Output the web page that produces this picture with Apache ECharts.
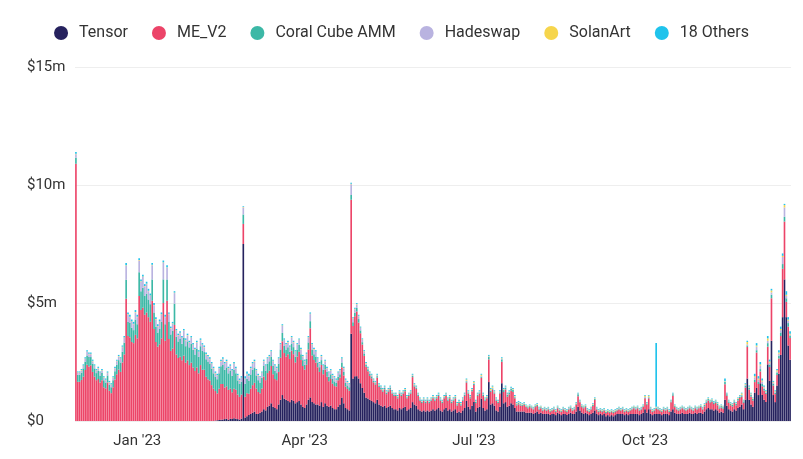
<!DOCTYPE html>
<html>
<head>
<meta charset="utf-8">
<script src="https://cdn.jsdelivr.net/npm/echarts@6/dist/echarts.min.js"></script>
<style>
  html, body { margin: 0; padding: 0; background: #fff; }
  #chart { width: 803px; height: 459px; }
</style>
</head>
<body>
<div id="chart"></div>
<script>
// daily volume, $m, one value per day starting 2022-11-29
const startDate = '2022-11-29';
const dayCount = 385;

const tickDates = ['2023-01-01', '2023-04-01', '2023-07-01', '2023-10-01'];
const tickLabels = ["Jan '23", "Apr '23", "Jul '23", "Oct '23"];

const seriesNames = ['Tensor', 'ME_V2', 'Coral Cube AMM', 'Hadeswap', 'SolanArt', '18 Others'];

const tensor = [
  0,0,0,0,0,0,0,0,0,0,
  0,0,0,0,0,0,0,0,0,0,
  0,0,0,0,0,0,0,0,0,0,
  0,0,0,0,0,0,0,0,0,0,
  0,0,0,0,0,0,0,0,0,0,
  0,0,0,0,0,0,0,0,0,0,
  0,0,0,0,0,0,0,0,0,0,
  0,0,0,0,0,0.02,0.03,0.04,0.05,0.06,
  0.08,0.1,0.05,0.1,0.08,0.12,0.1,0.08,0.06,0.1,
  7.5,0.15,0.2,0.25,0.3,0.35,0.4,0.3,0.3,0.35,
  0.4,0.5,0.45,0.6,0.65,0.75,0.6,0.55,0.5,0.7,
  0.9,1.1,0.95,0.9,0.85,0.8,0.9,0.85,0.75,0.8,
  0.85,0.7,0.6,0.55,0.7,0.9,1.0,0.8,0.75,0.7,
  0.7,0.65,0.8,0.6,0.75,0.65,0.6,0.65,0.55,0.5,
  0.5,0.6,0.7,1.0,0.75,0.55,0.5,0.45,3.7,1.8,
  1.9,1.9,1.8,1.6,1.4,1.2,1.0,0.95,0.9,0.85,
  0.8,0.75,0.9,0.7,0.65,0.6,0.65,0.55,0.6,0.65,
  0.55,0.5,0.5,0.45,0.55,0.5,0.55,0.6,0.45,0.5,
  0.55,0.8,0.7,0.65,0.5,0.45,0.4,0.45,0.4,0.45,
  0.4,0.45,0.5,0.45,0.5,0.55,0.45,0.4,0.5,0.55,
  0.45,0.5,0.4,0.45,0.5,0.35,0.4,0.35,0.45,0.55,
  0.85,0.6,0.5,0.65,0.8,0.4,0.55,0.6,0.95,0.55,
  0.45,0.5,1.65,0.7,0.75,0.65,0.45,0.4,0.6,1.6,
  0.75,0.8,0.6,0.65,0.75,0.7,0.55,0.4,0.4,0.4,
  0.4,0.4,0.35,0.35,0.35,0.35,0.3,0.35,0.4,0.3,
  0.35,0.3,0.3,0.3,0.3,0.25,0.3,0.3,0.25,0.35,
  0.3,0.25,0.3,0.3,0.25,0.3,0.35,0.3,0.3,0.4,
  0.6,0.45,0.35,0.3,0.35,0.3,0.25,0.3,0.35,0.45,
  0.3,0.25,0.3,0.25,0.3,0.2,0.25,0.2,0.25,0.2,
  0.25,0.3,0.3,0.3,0.3,0.25,0.3,0.25,0.3,0.3,
  0.3,0.3,0.3,0.25,0.3,0.35,0.5,0.35,0.5,0.3,
  0.25,0.3,0.3,0.3,0.3,0.25,0.3,0.3,0.3,0.25,
  0.4,0.5,0.35,0.3,0.3,0.3,0.35,0.3,0.3,0.3,
  0.35,0.3,0.3,0.35,0.3,0.35,0.35,0.3,0.4,0.5,
  0.55,0.5,0.5,0.45,0.5,0.45,0.35,0.4,0.35,0.9,
  0.65,0.5,0.45,0.4,0.5,0.45,0.55,0.6,0.7,0.5,
  0.9,1.8,0.9,0.7,0.6,1.2,1.4,1.1,1.6,1.1,
  0.9,0.8,2.4,1.7,3.4,1.1,0.8,1.5,2.0,2.8,
  4.4,6.0,4.4,3.2,2.6
];

const meV2 = [
  10.9,1.66,1.66,1.74,1.88,2.16,2.38,2.31,2.36,2.08,
  1.88,1.73,1.78,1.63,1.73,1.43,1.38,1.63,1.28,1.18,
  1.43,1.76,1.98,2.18,2.08,2.48,2.82,5.18,3.6,3.55,
  3.35,3.3,3.65,3.5,5.3,4.7,4.8,4.5,4.6,4.4,
  4.2,5.1,3.9,3.35,3.15,3.25,3.5,5.0,3.4,5.1,
  3.47,2.97,3.07,4.07,2.82,2.67,2.72,2.57,2.77,2.47,
  2.57,2.37,2.47,2.27,2.12,2.27,2.02,2.37,2.17,2.17,
  1.87,1.77,1.72,1.52,1.37,1.25,1.14,1.33,1.52,1.51,
  1.34,1.37,1.27,1.27,1.14,1.25,1.22,1.04,0.96,1.02,
  0.85,0.88,0.98,0.9,1.07,1.17,1.22,1.08,0.93,0.83,
  0.98,1.38,1.28,1.43,1.48,1.58,1.38,1.23,1.23,1.38,
  1.78,2.28,1.93,1.83,1.98,1.83,2.08,1.98,1.73,1.93,
  2.08,1.88,1.73,1.63,1.68,2.13,2.93,1.98,1.83,1.78,
  1.58,1.43,1.58,1.38,1.43,1.23,1.08,1.13,1.03,0.98,
  0.96,1.13,1.13,1.28,1.18,0.91,0.86,0.83,5.68,2.23,
  2.54,2.74,2.37,2.12,1.84,1.56,1.3,1.16,1.01,0.96,
  0.84,0.79,0.94,0.74,0.69,0.64,0.69,0.59,0.64,0.69,
  0.61,0.56,0.56,0.51,0.61,0.56,0.61,0.66,0.51,0.56,
  0.61,1.06,0.76,0.71,0.56,0.41,0.36,0.41,0.36,0.41,
  0.36,0.41,0.46,0.41,0.46,0.51,0.41,0.36,0.46,0.51,
  0.41,0.46,0.36,0.41,0.46,0.31,0.36,0.31,0.41,0.51,
  0.78,0.56,0.46,0.61,0.73,0.36,0.51,0.56,0.88,0.51,
  0.41,0.46,0.96,0.53,0.58,0.51,0.41,0.36,0.56,0.91,
  0.48,0.53,0.43,0.48,0.53,0.53,0.41,0.26,0.31,0.26,
  0.24,0.29,0.24,0.19,0.24,0.19,0.19,0.24,0.24,0.19,
  0.19,0.14,0.19,0.14,0.19,0.14,0.14,0.19,0.14,0.19,
  0.14,0.14,0.19,0.14,0.14,0.19,0.19,0.14,0.19,0.29,
  0.45,0.34,0.24,0.24,0.24,0.14,0.14,0.19,0.29,0.44,
  0.19,0.14,0.14,0.14,0.14,0.14,0.14,0.14,0.14,0.14,
  0.14,0.14,0.19,0.14,0.19,0.14,0.14,0.14,0.14,0.19,
  0.24,0.19,0.24,0.19,0.19,0.24,0.46,0.34,0.46,0.19,
  0.14,0.14,0.22,0.19,0.14,0.14,0.19,0.14,0.19,0.14,
  0.39,0.57,0.24,0.19,0.14,0.19,0.19,0.19,0.14,0.19,
  0.19,0.19,0.14,0.19,0.19,0.19,0.24,0.19,0.22,0.27,
  0.32,0.27,0.32,0.27,0.27,0.22,0.17,0.17,0.17,0.66,
  0.42,0.27,0.22,0.22,0.27,0.22,0.32,0.37,0.33,0.27,
  0.52,1.34,0.44,0.34,0.27,0.45,1.5,0.47,0.5,0.37,
  0.39,0.34,0.75,0.59,1.8,0.4,0.34,0.45,0.65,0.8,
  2.05,2.45,0.65,0.8,0.92
];

const coralCube = [
  0.25,0.3,0.3,0.3,0.35,0.35,0.4,0.4,0.35,0.35,
  0.35,0.3,0.35,0.3,0.3,0.3,0.25,0.3,0.25,0.25,
  0.3,0.35,0.4,0.4,0.4,0.45,0.5,0.8,0.6,0.6,
  0.6,0.55,0.65,0.6,1.0,0.8,0.85,0.8,0.8,0.75,
  0.75,0.9,0.7,0.65,0.6,0.65,0.7,1.0,0.7,0.9,
  0.75,0.7,0.75,0.9,0.75,0.7,0.75,0.7,0.75,0.7,
  0.8,0.75,0.8,0.75,0.7,0.8,0.7,0.8,0.8,0.75,
  0.75,0.75,0.7,0.7,0.65,0.6,0.6,0.65,0.75,0.8,
  0.75,0.8,0.7,0.75,0.7,0.8,0.7,0.6,0.55,0.55,
  0.4,0.55,0.6,0.55,0.6,0.65,0.65,0.55,0.5,0.45,
  0.45,0.45,0.4,0.4,0.4,0.4,0.35,0.35,0.3,0.35,
  0.35,0.35,0.3,0.3,0.3,0.3,0.3,0.3,0.25,0.3,
  0.3,0.25,0.25,0.2,0.25,0.3,0.3,0.25,0.25,0.25,
  0.2,0.2,0.2,0.2,0.2,0.2,0.2,0.2,0.2,0.2,
  0.15,0.15,0.15,0.2,0.15,0.15,0.15,0.15,0.2,0.15,
  0.15,0.15,0.15,0.12,0.1,0.1,0.08,0.08,0.08,0.08,
  0.06,0.06,0.06,0.06,0.06,0.06,0.06,0.06,0.06,0.06,
  0.05,0.05,0.05,0.05,0.05,0.05,0.05,0.05,0.05,0.05,
  0.05,0.05,0.05,0.05,0.05,0.05,0.05,0.05,0.05,0.05,
  0.05,0.05,0.05,0.05,0.05,0.05,0.05,0.05,0.05,0.05,
  0.05,0.05,0.05,0.05,0.05,0.05,0.05,0.05,0.05,0.05,
  0.05,0.05,0.05,0.05,0.05,0.05,0.05,0.05,0.05,0.05,
  0.05,0.05,0.1,0.05,0.05,0.05,0.05,0.05,0.05,0.1,
  0.08,0.08,0.08,0.08,0.08,0.08,0.05,0.05,0.05,0.05,
  0.04,0.04,0.04,0.04,0.04,0.04,0.04,0.04,0.04,0.04,
  0.04,0.04,0.04,0.04,0.04,0.04,0.04,0.04,0.04,0.04,
  0.04,0.04,0.04,0.04,0.04,0.04,0.04,0.04,0.04,0.04,
  0.08,0.04,0.04,0.04,0.04,0.04,0.04,0.04,0.04,0.04,
  0.04,0.04,0.04,0.04,0.04,0.04,0.04,0.04,0.04,0.04,
  0.04,0.04,0.04,0.04,0.04,0.04,0.04,0.04,0.04,0.04,
  0.04,0.04,0.04,0.04,0.04,0.04,0.04,0.04,0.04,0.04,
  0.04,0.04,0.04,0.04,0.04,0.04,0.04,0.04,0.04,0.04,
  0.04,0.06,0.04,0.04,0.04,0.04,0.04,0.04,0.04,0.04,
  0.04,0.04,0.04,0.04,0.04,0.04,0.04,0.04,0.06,0.06,
  0.06,0.06,0.06,0.06,0.06,0.06,0.06,0.06,0.06,0.1,
  0.06,0.06,0.06,0.06,0.06,0.06,0.06,0.06,0.06,0.06,
  0.08,0.06,0.06,0.06,0.06,0.1,0.1,0.08,0.1,0.1,
  0.08,0.06,0.15,0.1,0.15,0.08,0.06,0.1,0.12,0.15,
  0.2,0.2,0.15,0.15,0.1
];

const hadeswap = [
  0.15,0.08,0.08,0.1,0.1,0.12,0.15,0.12,0.12,0.1,
  0.1,0.1,0.1,0.1,0.1,0.1,0.1,0.1,0.1,0.1,
  0.1,0.12,0.15,0.15,0.15,0.2,0.2,0.6,0.3,0.25,
  0.25,0.25,0.3,0.3,0.5,0.4,0.45,0.4,0.4,0.35,
  0.35,0.6,0.3,0.3,0.25,0.3,0.3,0.7,0.3,0.5,
  0.3,0.25,0.3,0.45,0.25,0.25,0.25,0.25,0.3,0.25,
  0.25,0.2,0.25,0.2,0.2,0.25,0.2,0.25,0.25,0.2,
  0.2,0.2,0.2,0.2,0.2,0.15,0.15,0.2,0.2,0.25,
  0.25,0.25,0.2,0.2,0.2,0.25,0.2,0.2,0.15,0.15,
  0.3,0.2,0.2,0.2,0.25,0.25,0.25,0.2,0.2,0.2,
  0.2,0.2,0.2,0.2,0.2,0.2,0.2,0.2,0.2,0.2,
  0.2,0.3,0.25,0.2,0.2,0.2,0.25,0.2,0.2,0.2,
  0.2,0.2,0.15,0.15,0.2,0.2,0.3,0.2,0.2,0.2,
  0.15,0.15,0.15,0.15,0.15,0.15,0.15,0.15,0.15,0.15,
  0.12,0.15,0.15,0.15,0.15,0.12,0.12,0.1,0.45,0.15,
  0.15,0.15,0.12,0.1,0.1,0.08,0.06,0.05,0.05,0.05,
  0.04,0.04,0.04,0.04,0.04,0.04,0.04,0.04,0.04,0.04,
  0.03,0.03,0.03,0.03,0.03,0.03,0.03,0.03,0.03,0.03,
  0.03,0.03,0.03,0.03,0.03,0.03,0.03,0.03,0.03,0.03,
  0.03,0.03,0.03,0.03,0.03,0.03,0.03,0.03,0.03,0.03,
  0.03,0.03,0.03,0.03,0.03,0.03,0.03,0.03,0.03,0.03,
  0.03,0.03,0.03,0.03,0.03,0.03,0.03,0.03,0.03,0.03,
  0.03,0.03,0.03,0.03,0.03,0.03,0.03,0.03,0.03,0.03,
  0.03,0.03,0.03,0.03,0.03,0.03,0.03,0.03,0.03,0.03,
  0.02,0.02,0.02,0.02,0.02,0.02,0.02,0.02,0.02,0.02,
  0.02,0.02,0.02,0.02,0.02,0.02,0.02,0.02,0.02,0.02,
  0.02,0.02,0.02,0.02,0.02,0.02,0.02,0.02,0.02,0.02,
  0.02,0.02,0.02,0.02,0.02,0.02,0.02,0.02,0.02,0.02,
  0.02,0.02,0.02,0.02,0.02,0.02,0.02,0.02,0.02,0.02,
  0.02,0.02,0.02,0.02,0.02,0.02,0.02,0.02,0.02,0.02,
  0.02,0.02,0.02,0.02,0.02,0.02,0.02,0.02,0.02,0.02,
  0.02,0.02,0.02,0.02,0.02,0.02,0.02,0.02,0.02,0.02,
  0.02,0.02,0.02,0.02,0.02,0.02,0.02,0.02,0.02,0.02,
  0.02,0.02,0.02,0.02,0.02,0.02,0.02,0.02,0.02,0.02,
  0.02,0.02,0.02,0.02,0.02,0.02,0.02,0.02,0.02,0.02,
  0.02,0.02,0.02,0.02,0.02,0.02,0.02,0.02,0.02,0.02,
  0.03,0.05,0.03,0.03,0.02,0.1,0.15,0.1,0.15,0.1,
  0.05,0.03,0.1,0.08,0.1,0.05,0.03,0.05,0.08,0.1,
  0.3,0.4,0.1,0.1,0.05
];

const solanArt = [
  0.02,0.02,0.02,0.02,0.02,0.02,0.02,0.02,0.02,0.02,
  0.02,0.02,0.02,0.02,0.02,0.02,0.02,0.02,0.02,0.02,
  0.02,0.02,0.02,0.02,0.02,0.02,0.02,0.02,0.02,0.02,
  0.02,0.02,0.02,0.02,0.02,0.02,0.02,0.02,0.02,0.02,
  0.02,0.02,0.02,0.02,0.02,0.02,0.02,0.02,0.02,0.02,
  0.02,0.02,0.02,0.02,0.02,0.02,0.02,0.02,0.02,0.02,
  0.02,0.02,0.02,0.02,0.02,0.02,0.02,0.02,0.02,0.02,
  0.02,0.02,0.02,0.02,0.02,0.02,0.02,0.02,0.02,0.02,
  0.02,0.02,0.02,0.02,0.02,0.02,0.02,0.02,0.02,0.02,
  0.02,0.02,0.02,0.02,0.02,0.02,0.02,0.02,0.02,0.02,
  0.02,0.02,0.02,0.02,0.02,0.02,0.02,0.02,0.02,0.02,
  0.02,0.02,0.02,0.02,0.02,0.02,0.02,0.02,0.02,0.02,
  0.02,0.02,0.02,0.02,0.02,0.02,0.02,0.02,0.02,0.02,
  0.02,0.02,0.02,0.02,0.02,0.02,0.02,0.02,0.02,0.02,
  0.02,0.02,0.02,0.02,0.02,0.02,0.02,0.02,0.02,0.02,
  0.02,0.02,0.02,0.02,0.02,0.02,0.02,0.02,0.02,0.02,
  0.02,0.02,0.02,0.02,0.02,0.02,0.02,0.02,0.02,0.02,
  0.02,0.02,0.02,0.02,0.02,0.02,0.02,0.02,0.02,0.02,
  0.02,0.02,0.02,0.02,0.02,0.02,0.02,0.02,0.02,0.02,
  0.02,0.02,0.02,0.02,0.02,0.02,0.02,0.02,0.02,0.02,
  0.02,0.02,0.02,0.02,0.02,0.02,0.02,0.02,0.02,0.02,
  0.05,0.02,0.02,0.02,0.05,0.02,0.02,0.02,0.05,0.02,
  0.02,0.02,0.02,0.05,0.05,0.02,0.02,0.02,0.02,0.02,
  0.02,0.02,0.02,0.02,0.02,0.02,0.02,0.02,0.02,0.02,
  0.02,0.02,0.02,0.02,0.02,0.02,0.02,0.02,0.02,0.02,
  0.02,0.02,0.02,0.02,0.02,0.02,0.02,0.02,0.02,0.02,
  0.02,0.02,0.02,0.02,0.02,0.02,0.02,0.02,0.02,0.02,
  0.02,0.02,0.02,0.02,0.02,0.02,0.02,0.02,0.02,0.02,
  0.02,0.02,0.02,0.02,0.02,0.02,0.02,0.02,0.02,0.02,
  0.02,0.02,0.02,0.02,0.02,0.02,0.02,0.02,0.02,0.02,
  0.02,0.02,0.02,0.02,0.02,0.02,0.05,0.02,0.05,0.02,
  0.02,0.02,0.02,0.02,0.02,0.02,0.02,0.02,0.02,0.02,
  0.02,0.02,0.02,0.02,0.02,0.02,0.02,0.02,0.02,0.02,
  0.02,0.02,0.02,0.02,0.02,0.02,0.02,0.02,0.02,0.02,
  0.02,0.02,0.02,0.02,0.02,0.02,0.02,0.02,0.02,0.02,
  0.02,0.02,0.02,0.02,0.02,0.02,0.02,0.02,0.06,0.02,
  0.03,0.1,0.03,0.03,0.02,0.05,0.05,0.05,0.05,0.05,
  0.03,0.03,0.1,0.05,0.08,0.03,0.03,0.05,0.05,0.05,
  0.05,0.1,0.05,0.05,0.03
];

const others = [
  0.08,0.04,0.04,0.04,0.05,0.05,0.05,0.05,0.05,0.05,
  0.05,0.05,0.05,0.05,0.05,0.05,0.05,0.05,0.05,0.05,
  0.05,0.05,0.05,0.05,0.05,0.05,0.06,0.1,0.08,0.08,
  0.08,0.08,0.08,0.08,0.08,0.08,0.08,0.08,0.08,0.08,
  0.08,0.08,0.08,0.08,0.08,0.08,0.08,0.08,0.08,0.08,
  0.06,0.06,0.06,0.06,0.06,0.06,0.06,0.06,0.06,0.06,
  0.06,0.06,0.06,0.06,0.06,0.06,0.06,0.06,0.06,0.06,
  0.06,0.06,0.06,0.06,0.06,0.06,0.06,0.06,0.06,0.06,
  0.06,0.06,0.06,0.06,0.06,0.06,0.06,0.06,0.06,0.06,
  0.03,0.1,0.1,0.08,0.06,0.06,0.06,0.05,0.05,0.05,
  0.05,0.05,0.05,0.05,0.05,0.05,0.05,0.05,0.05,0.05,
  0.05,0.05,0.05,0.05,0.05,0.05,0.05,0.05,0.05,0.05,
  0.05,0.05,0.05,0.05,0.05,0.05,0.05,0.05,0.05,0.05,
  0.05,0.05,0.05,0.05,0.05,0.05,0.05,0.05,0.05,0.05,
  0.05,0.05,0.05,0.05,0.05,0.05,0.05,0.05,0.05,0.05,
  0.04,0.04,0.04,0.04,0.04,0.04,0.04,0.04,0.04,0.04,
  0.04,0.04,0.04,0.04,0.04,0.04,0.04,0.04,0.04,0.04,
  0.04,0.04,0.04,0.04,0.04,0.04,0.04,0.04,0.04,0.04,
  0.04,0.04,0.04,0.04,0.04,0.04,0.04,0.04,0.04,0.04,
  0.04,0.04,0.04,0.04,0.04,0.04,0.04,0.04,0.04,0.04,
  0.04,0.04,0.04,0.04,0.04,0.04,0.04,0.04,0.04,0.04,
  0.04,0.04,0.04,0.04,0.04,0.04,0.04,0.04,0.04,0.04,
  0.04,0.04,0.04,0.04,0.04,0.04,0.04,0.04,0.04,0.04,
  0.04,0.04,0.04,0.04,0.04,0.04,0.04,0.04,0.04,0.04,
  0.03,0.03,0.03,0.03,0.03,0.03,0.03,0.03,0.03,0.03,
  0.03,0.03,0.03,0.03,0.03,0.03,0.03,0.03,0.03,0.03,
  0.03,0.03,0.03,0.03,0.03,0.03,0.03,0.03,0.03,0.03,
  0.03,0.03,0.03,0.03,0.03,0.03,0.03,0.03,0.03,0.03,
  0.03,0.03,0.03,0.03,0.03,0.03,0.03,0.03,0.03,0.03,
  0.03,0.03,0.03,0.03,0.03,0.03,0.03,0.03,0.03,0.03,
  0.03,0.03,0.03,0.03,0.03,0.03,0.03,0.03,0.03,0.03,
  0.03,0.03,2.7,0.03,0.03,0.03,0.03,0.03,0.03,0.03,
  0.03,0.03,0.03,0.03,0.03,0.03,0.03,0.03,0.03,0.03,
  0.03,0.03,0.03,0.03,0.03,0.03,0.03,0.03,0.03,0.03,
  0.03,0.03,0.03,0.03,0.03,0.03,0.03,0.03,0.03,0.1,
  0.03,0.03,0.03,0.03,0.03,0.03,0.03,0.03,0.03,0.03,
  0.04,0.05,0.04,0.04,0.03,0.1,0.1,0.1,0.1,0.08,
  0.05,0.04,0.1,0.08,0.07,0.04,0.04,0.05,0.1,0.1,
  0.1,0.05,0.15,0.1,0.1
];

const colors = ['#26225e', '#ec4468', '#3cb8a6', '#b9b3e0', '#f6d54c', '#1fc3ec'];

// category dates
const dates = [];
const d0 = new Date(startDate + 'T00:00:00Z');
for (let i = 0; i < dayCount; i++) {
  const d = new Date(d0.getTime() + i * 86400000);
  dates.push(d.toISOString().slice(0, 10));
}

const seriesData = [tensor, meV2, coralCube, hadeswap, solanArt, others];

const chart = echarts.init(document.getElementById('chart'));
chart.setOption({
  animation: false,
  color: colors,
  textStyle: { fontFamily: 'Roboto, "Noto Sans", sans-serif' },
  legend: {
    top: 20,
    left: 'center',
    icon: 'circle',
    itemWidth: 14,
    itemHeight: 14,
    itemGap: 24,
    textStyle: { fontSize: 16, color: '#333', padding: [0, 0, 0, 6] },
    data: seriesNames
  },
  grid: { left: 75, right: 12, top: 67, bottom: 38 },
  xAxis: {
    type: 'category',
    data: dates,
    axisLine: { show: false },
    axisTick: { show: false },
    axisLabel: {
      interval: (idx, val) => tickDates.indexOf(val) >= 0,
      formatter: val => tickLabels[tickDates.indexOf(val)],
      fontSize: 15,
      color: '#333',
      margin: 13
    }
  },
  yAxis: {
    type: 'value',
    min: 0,
    max: 15,
    interval: 5,
    axisLine: { show: false },
    axisTick: { show: false },
    splitLine: { lineStyle: { color: '#eeeeee', width: 1 } },
    axisLabel: {
      align: 'left',
      margin: 48,
      fontSize: 15,
      color: '#333',
      formatter: v => (v === 0 ? '$0' : '$' + v + 'm')
    }
  },
  series: seriesNames.map((name, i) => ({
    name: name,
    type: 'bar',
    stack: 'vol',
    barCategoryGap: '12%',
    data: seriesData[i]
  }))
});
</script>
</body>
</html>
